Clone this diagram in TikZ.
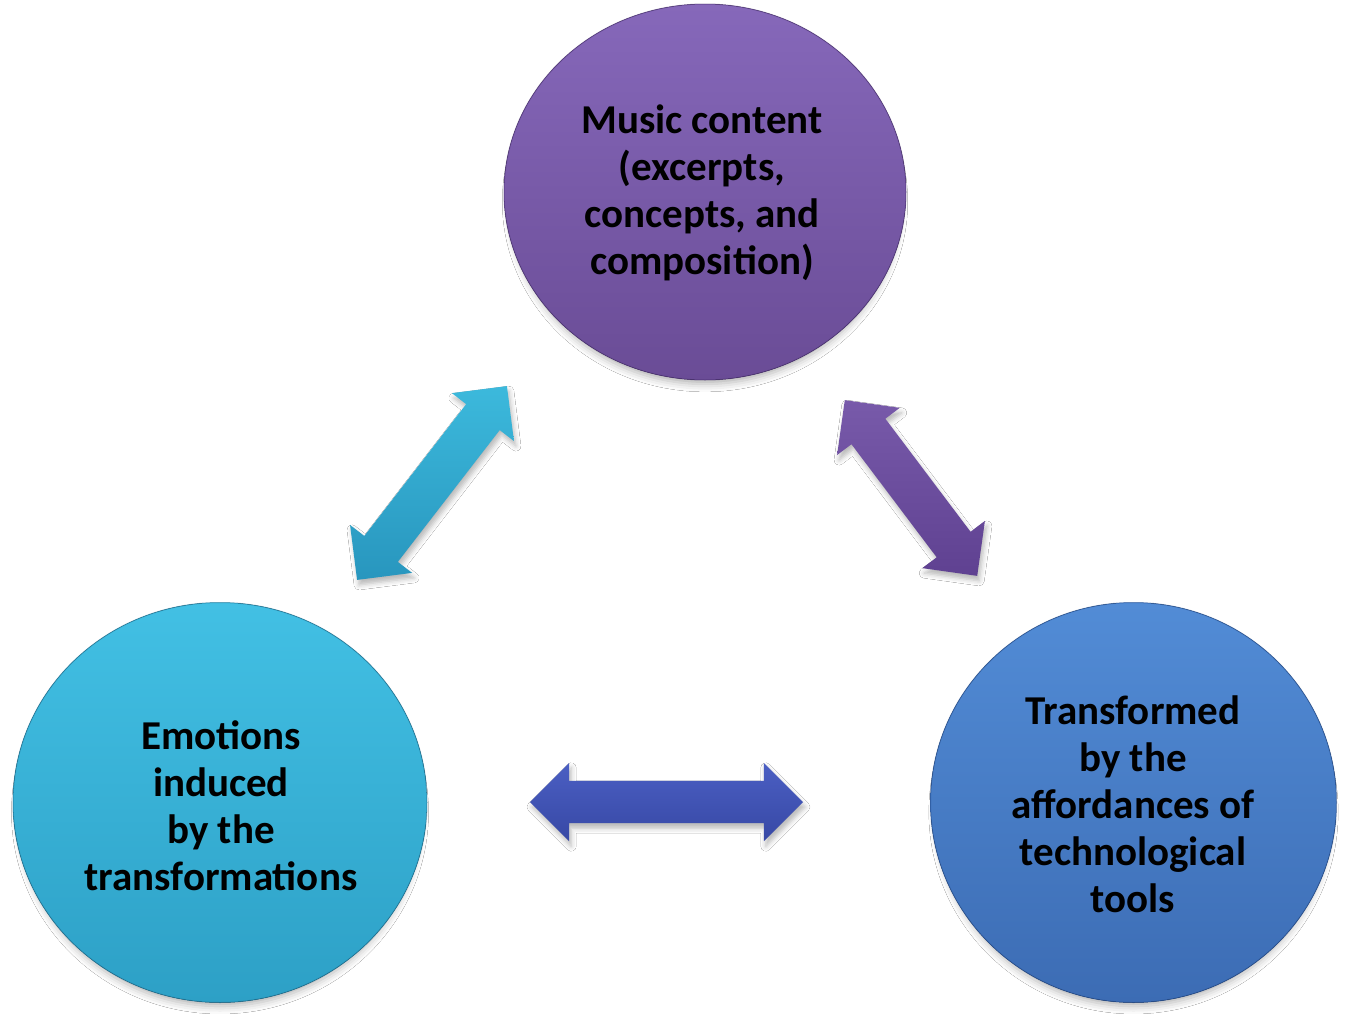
\documentclass[tikz,border=0pt]{standalone}
\usepackage{fontspec}
\setmainfont{Carlito}
\usetikzlibrary{shapes.geometric,shapes.arrows,shadows.blur,fadings}

\definecolor{purRimT}{RGB}{170,145,220}
\definecolor{purRimB}{RGB}{70,45,110}
\definecolor{purT}{RGB}{134,104,186}
\definecolor{purB}{RGB}{106,76,150}
\definecolor{cyRimT}{RGB}{120,222,245}
\definecolor{cyRimB}{RGB}{25,105,140}
\definecolor{cyT}{RGB}{66,192,228}
\definecolor{cyB}{RGB}{45,160,198}
\definecolor{blRimT}{RGB}{125,175,240}
\definecolor{blRimB}{RGB}{30,70,135}
\definecolor{blT}{RGB}{82,140,214}
\definecolor{blB}{RGB}{60,108,180}
\definecolor{acyT}{RGB}{60,185,220}
\definecolor{acyB}{RGB}{40,150,190}
\definecolor{apuT}{RGB}{120,90,170}
\definecolor{apuB}{RGB}{95,65,145}
\definecolor{ablT}{RGB}{75,95,195}
\definecolor{ablB}{RGB}{55,72,165}

\pgfdeclareradialshading{softfadeshade}{\pgfpointorigin}{gray(0bp)=(1); gray(44bp)=(1); gray(50bp)=(0)}
\pgfdeclarefading{softedge}{\pgfuseshading{softfadeshade}}

\tikzset{
  ball/.style n args={4}{ellipse, inner sep=0pt, top color=#1, bottom color=#2,
    draw=#2, draw opacity=0.5, line width=1pt,
    blur shadow={shadow xshift=0pt, shadow yshift=-10pt, shadow scale=0.97, shadow blur radius=8pt, shadow opacity=30},
    path picture={\fill[top color=#3, bottom color=#4, path fading=softedge]
      (path picture bounding box.south west) rectangle (path picture bounding box.north east);}},
  lbl/.style={align=center, font=\fontsize{41}{47}\selectfont\bfseries, text=black, inner sep=0pt},
  dblarrow/.style n args={2}{double arrow, double arrow head extend=18pt, inner sep=0pt,
    inner ysep=21pt, minimum width=78pt, top color=#1, bottom color=#2,
    blur shadow={shadow xshift=2pt, shadow yshift=-5pt, shadow blur radius=5pt, shadow opacity=28}}
}

\begin{document}
\begin{tikzpicture}[x=1pt,y=-1pt]
\useasboundingbox[fill=white] (0,0) rectangle (1350,1028);

% circles
\node[ball={purRimT}{purRimB}{purT}{purB}, minimum width=402pt, minimum height=376pt] (M) at (705,192) {};
\node[ball={cyRimT}{cyRimB}{cyT}{cyB}, minimum width=414pt, minimum height=400pt] (E) at (220,802.5) {};
\node[ball={blRimT}{blRimB}{blT}{blB}, minimum width=406pt, minimum height=400pt] (T) at (1133.5,802.5) {};

% texts
\node[lbl] (Mt) at (702,193) {Music content\\(excerpts,\\concepts, and\\composition)};
\node[lbl] (Et) at (221,806) {Emotions\\induced\\by the\\transformations};
\node[lbl] (Tt) at (1133,804) {Transformed\\by the\\affordances of\\technological\\tools};

% double arrows
\node[dblarrow={acyT}{acyB}, minimum height=245pt, rotate=52.3] (LA) at (432,483) {};
\node[dblarrow={apuT}{apuB}, minimum height=220pt, rotate=-53] (RA) at (911,488) {};
\node[dblarrow={ablT}{ablB}, minimum height=273pt] (BA) at (666.5,802) {};
\end{tikzpicture}
\end{document}
